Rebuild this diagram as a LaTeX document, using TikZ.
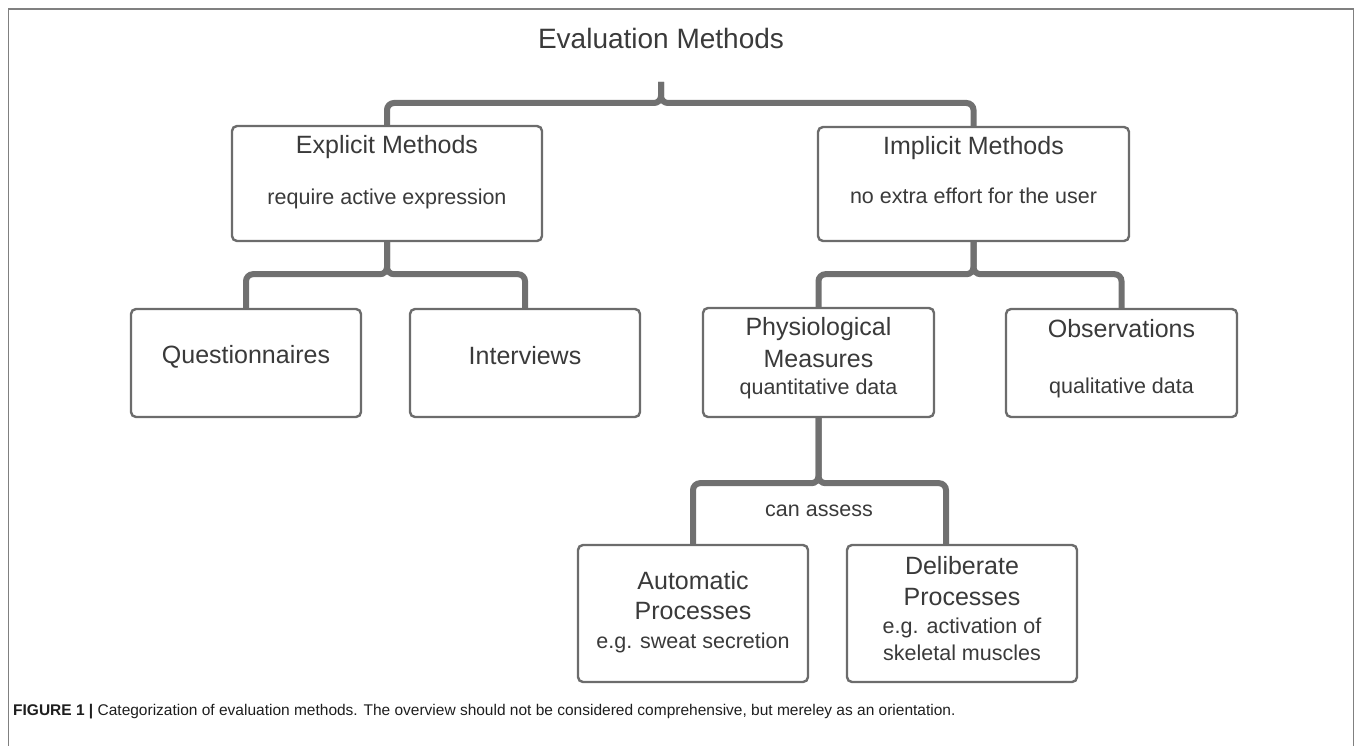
\documentclass[tikz,border=0pt]{standalone}
\usepackage{fontspec}
\setmainfont{Liberation Sans}
\usepackage{xcolor}
\usetikzlibrary{positioning}
\definecolor{framegray}{RGB}{128,128,128}
\definecolor{boxgray}{RGB}{108,108,108}
\definecolor{linkgray}{RGB}{112,112,112}
\definecolor{inkgray}{RGB}{58,58,58}
\definecolor{capink}{RGB}{30,30,30}

\begin{document}
\begin{tikzpicture}[x=1pt,y=-1pt,
  box/.style={draw=boxgray,line width=2.4pt,rounded corners=5pt,fill=white,inner sep=0pt},
  link/.style={draw=linkgray,line width=6pt,rounded corners=7pt},
  head/.style={text=inkgray,font=\fontsize{25}{30}\selectfont,inner sep=0pt,
               text height=0.72em,text depth=0.2em},
  note/.style={text=inkgray,font=\fontsize{21.5}{26}\selectfont,inner sep=0pt,
               text height=0.72em,text depth=0.2em}]
  \useasboundingbox (0,0) rectangle (1355,746);
  \draw[framegray,line width=1.5pt] (8.5,746) -- (8.5,9) -- (1353.5,9) -- (1353.5,746);

  \node[text=inkgray,font=\fontsize{28}{34}\selectfont,inner sep=0pt] (title) at (661,38) {Evaluation Methods};

  % first level
  \node[box,minimum width=310pt,minimum height=115pt] (expl) at (387,183.5) {};
  \node[box,minimum width=311pt,minimum height=114pt] (impl) at (973.5,184) {};
  \node[head] (explhead) at (387,151) {Explicit Methods};
  \node[note] (explnote) at (387,202) {require active expression};
  \node[head] (implhead) at (973.5,152) {Implicit Methods};
  \node[note] (implnote) at (973.5,201) {no extra effort for the user};

  % second level
  \node[box,minimum width=230pt,minimum height=108pt] (quest) at (246,363) {};
  \node[box,minimum width=230pt,minimum height=108pt] (inter) at (525,363) {};
  \node[box,minimum width=231pt,minimum height=109pt] (phys) at (818.5,362.5) {};
  \node[box,minimum width=231pt,minimum height=108pt] (obs) at (1121.5,363) {};
  \node[head] (questhead) at (246,361) {Questionnaires};
  \node[head] (interhead) at (525,362) {Interviews};
  \node[head] (physhead1) at (818.5,333) {Physiological};
  \node[head] (physhead2) at (818.5,365) {Measures};
  \node[note] (physnote) at (818.5,392) {quantitative data};
  \node[head] (obshead) at (1121.5,335) {Observations};
  \node[note] (obsnote) at (1121.5,391) {qualitative data};

  % third level
  \node[box,minimum width=230pt,minimum height=137pt] (auto) at (693,613.5) {};
  \node[box,minimum width=230pt,minimum height=137pt] (delib) at (962,613.5) {};
  \node[head] (autohead1) at (693,587) {Automatic};
  \node[head] (autohead2) at (693,617) {Processes};
  \node[note] (autonote) at (693,646) {e.g. sweat secretion};
  \node[head] (delibhead1) at (962,572) {Deliberate};
  \node[head] (delibhead2) at (962,603) {Processes};
  \node[note] (delibnote1) at (962,631) {e.g. activation of};
  \node[note] (delibnote2) at (962,658) {skeletal muscles};
  \node[note] (assess) at (819,514) {can assess};

  % connectors
  \coordinate (stem) at (661,82);
  \draw[link] (stem) -- (661,103) -| (expl.north);
  \draw[link] (stem) -- (661,103) -| (impl.north);
  \draw[link] (expl.south) -- ++(0,32) -| (quest.north);
  \draw[link] (expl.south) -- ++(0,32) -| (inter.north);
  \draw[link] (impl.south) -- ++(0,32) -| (phys.north);
  \draw[link] (impl.south) -- ++(0,32) -| (obs.north);
  \draw[link] (phys.south) -- ++(0,65) -| (auto.north);
  \draw[link] (phys.south) -- ++(0,65) -| ([xshift=-16pt]delib.north);

  \node[anchor=west,text=capink,font=\fontsize{15.5}{18}\selectfont,inner sep=0pt] (caption) at (13,712)
    {\textbf{FIGURE 1 |} Categorization of evaluation methods. The overview should not be considered comprehensive, but mereley as an orientation.};
\end{tikzpicture}
\end{document}
